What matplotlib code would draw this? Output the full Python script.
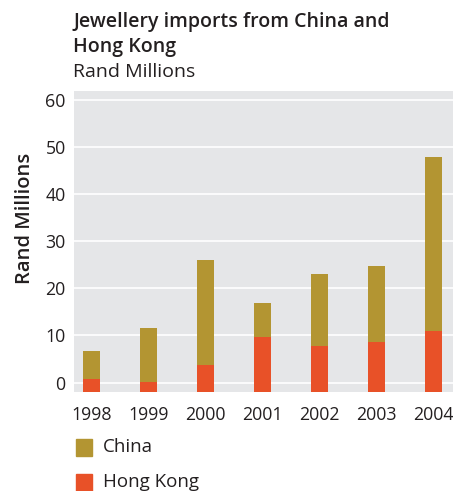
import matplotlib.pyplot as plt
import numpy as np

years = ["1998", "1999", "2000", "2001", "2002", "2003", "2004"]
china_total = [6.7, 11.6, 26.0, 16.9, 23.0, 24.7, 47.8]
hong_kong = [0.7, 0.1, 3.7, 9.6, 7.7, 8.6, 10.9]
yticks = [0, 10, 20, 30, 40, 50, 60]

CHINA = "#B39532"
HK = "#E85128"
BG = "#E5E6E8"
TXT = "#231F20"

plt.rcParams["font.family"] = ["Open Sans", "DejaVu Sans"]

fig = plt.figure(figsize=(4.53, 4.91), dpi=100)
ax = fig.add_axes([74 / 453, 1 - 392 / 491, 379 / 453, 301 / 491])
ax.set_facecolor(BG)

base = -2.0  # bars start at the bottom of the frame
x = np.arange(len(years))
china_h = [c - base for c in china_total]
hk_h = [h - base for h in hong_kong]
ax.bar(x, china_h, bottom=base, width=0.3, color=CHINA, zorder=2)
ax.bar(x, hk_h, bottom=base, width=0.3, color=HK, zorder=3)

ax.set_xlim(-0.31, 6.34)
ax.set_ylim(base, 61.9)
ax.set_yticks(yticks)
ax.set_xticks(x)
ax.set_xticklabels(years)
ax.grid(axis="y", color="white", linewidth=1.2, zorder=1)
ax.tick_params(length=0, labelsize=12.8, colors=TXT, pad=6)
ax.tick_params(axis="x", pad=10)
for s in ax.spines.values():
    s.set_visible(False)
ax.set_ylabel("Rand Millions", fontsize=14.5, fontweight="semibold", color=TXT,
              va="center")
ax.yaxis.set_label_coords((25 - 74) / 379, (392 - 218) / 301)

fig.text(73 / 453, 1 - 22 / 491, "Jewellery imports from China and",
         fontsize=14.0, fontweight="semibold", color=TXT, va="center")
fig.text(73 / 453, 1 - 47 / 491, "Hong Kong",
         fontsize=14.0, fontweight="semibold", color=TXT, va="center")
fig.text(73 / 453, 1 - 72 / 491, "Rand Millions", fontsize=14.0, color=TXT, va="center")

# legend
for i, (lab, col) in enumerate([("China", CHINA), ("Hong Kong", HK)]):
    yc = 1 - (447 + 35 * i) / 491
    fig.patches.append(plt.Rectangle((76 / 453, yc - 8.5 / 491), 16 / 453, 17 / 491,
                                     transform=fig.transFigure, color=col))
    fig.text(103 / 453, yc, lab, fontsize=13.5, color=TXT, va="center")

fig.savefig("out.png", dpi=100)
